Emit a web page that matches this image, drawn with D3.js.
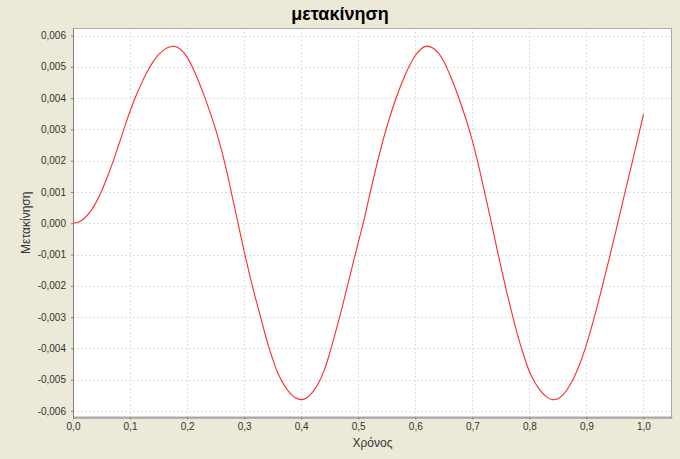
<!DOCTYPE html>
<html>
<head>
<meta charset="utf-8">
<script src="https://cdn.jsdelivr.net/npm/d3@7"></script>
<style>
  html, body { margin: 0; padding: 0; background: #ECE9D8; }
  svg { display: block; }
</style>
</head>
<body>
<svg id="chart" width="680" height="459"></svg>
<script>
const titleText = "μετακίνηση";
const xLabel = "Χρόνος";
const yLabel = "Μετακίνηση";

const time = [0.00, 0.01, 0.02, 0.03, 0.04, 0.05, 0.06, 0.07, 0.08, 0.09,
  0.10, 0.11, 0.12, 0.13, 0.14, 0.15, 0.16, 0.17, 0.18, 0.19,
  0.20, 0.21, 0.22, 0.23, 0.24, 0.25, 0.26, 0.27, 0.28, 0.29,
  0.30, 0.31, 0.32, 0.33, 0.34, 0.35, 0.36, 0.37, 0.38, 0.39,
  0.40, 0.41, 0.42, 0.43, 0.44, 0.45, 0.46, 0.47, 0.48, 0.49,
  0.50, 0.51, 0.52, 0.53, 0.54, 0.55, 0.56, 0.57, 0.58, 0.59,
  0.60, 0.61, 0.62, 0.63, 0.64, 0.65, 0.66, 0.67, 0.68, 0.69,
  0.70, 0.71, 0.72, 0.73, 0.74, 0.75, 0.76, 0.77, 0.78, 0.79,
  0.80, 0.81, 0.82, 0.83, 0.84, 0.85, 0.86, 0.87, 0.88, 0.89,
  0.90, 0.91, 0.92, 0.93, 0.94, 0.95, 0.96, 0.97, 0.98, 0.99, 1.00];

const displacement = [0, 0.00004, 0.00016, 0.00036, 0.00065, 0.00102, 0.00147, 0.00196, 0.00250, 0.00305,
  0.00358, 0.00405, 0.00447, 0.00484, 0.00515, 0.00539, 0.00555, 0.00564, 0.00565, 0.00553,
  0.00531, 0.00496, 0.00454, 0.00407, 0.00356, 0.00300, 0.00236, 0.00162, 0.00078, -0.00006,
  -0.00090, -0.00168, -0.00240, -0.00308, -0.00376, -0.00434, -0.00483, -0.00517, -0.00542, -0.00558,
  -0.00564, -0.00558, -0.00540, -0.00512, -0.00472, -0.00415, -0.00350, -0.00282, -0.00208, -0.00135,
  -0.00062, 0.00010, 0.00090, 0.00168, 0.00241, 0.00307, 0.00366, 0.00418, 0.00464, 0.00504,
  0.00536, 0.00557, 0.00566, 0.00561, 0.00545, 0.00517, 0.00477, 0.00432, 0.00381, 0.00326,
  0.00264, 0.00191, 0.00111, 0.00030, -0.00055, -0.00138, -0.00218, -0.00292, -0.00362, -0.00422,
  -0.00474, -0.00510, -0.00537, -0.00555, -0.00564, -0.00561, -0.00546, -0.00521, -0.00486, -0.00442,
  -0.00388, -0.00326, -0.00258, -0.00186, -0.00112, -0.00037, 0.00040, 0.00117, 0.00193, 0.00270, 0.00349];

const xTicks = [0, 0.1, 0.2, 0.3, 0.4, 0.5, 0.6, 0.7, 0.8, 0.9, 1.0];
const yTicks = [-0.006, -0.005, -0.004, -0.003, -0.002, -0.001, 0, 0.001, 0.002, 0.003, 0.004, 0.005, 0.006];

const svg = d3.select("#chart");
const L = 73, R = 672, T = 28, B = 417.5;

const x = d3.scaleLinear().domain([0, 1.05]).range([L, R]);
const y = d3.scaleLinear().domain([-0.00621, 0.00624]).range([B, T]);

const fontFam = "'Liberation Sans', Arial, sans-serif";

// title
svg.append("text")
  .attr("x", 340).attr("y", 20)
  .attr("text-anchor", "middle")
  .attr("font-family", fontFam)
  .attr("font-weight", "bold")
  .attr("font-size", 18)
  .attr("fill", "#000")
  .text(titleText);

// plot background
svg.append("rect")
  .attr("x", L).attr("y", T)
  .attr("width", R - L).attr("height", B - T)
  .attr("fill", "#fff");

const crisp = v => Math.round(v) + 0.5;

// gridlines
const grid = svg.append("g");
grid.selectAll("line.vx").data(xTicks.filter(d => d > 0)).enter().append("line")
  .attr("x1", d => crisp(x(d))).attr("x2", d => crisp(x(d)))
  .attr("y1", T).attr("y2", B)
  .attr("stroke", "#dedede").attr("stroke-width", 1).attr("stroke-dasharray", "2,2");
grid.selectAll("line.hy").data(yTicks).enter().append("line")
  .attr("x1", L).attr("x2", R)
  .attr("y1", d => crisp(y(d))).attr("y2", d => crisp(y(d)))
  .attr("stroke", "#dedede").attr("stroke-width", 1).attr("stroke-dasharray", "2,2");

// plot outline
svg.append("rect")
  .attr("x", L + 0.5).attr("y", T + 0.5)
  .attr("width", R - L - 1).attr("height", B - T - 1)
  .attr("fill", "none").attr("stroke", "#aaaaaa");

// line
const pts = time.map((t, i) => [t, displacement[i]]);
const line = d3.line().x(d => x(d[0])).y(d => y(d[1])).curve(d3.curveCatmullRom.alpha(0.5));
svg.append("path")
  .datum(pts)
  .attr("d", line)
  .attr("fill", "none")
  .attr("stroke", "#ff2a2a")
  .attr("stroke-width", 1.1);

// axes
const fmtX = d => d.toFixed(1).replace(".", ",");
const fmtY = d => (Math.abs(d) < 1e-12 ? "0,000" : d.toFixed(3).replace(".", ","));

const xAxis = svg.append("g")
  .attr("transform", `translate(0,${B})`)
  .call(d3.axisBottom(x).tickValues(xTicks).tickFormat(fmtX).tickSize(2).tickSizeOuter(0).tickPadding(3));
const yAxis = svg.append("g")
  .attr("transform", `translate(${L},0)`)
  .call(d3.axisLeft(y).tickValues(yTicks).tickFormat(fmtY).tickSize(2).tickSizeOuter(0).tickPadding(5));

[xAxis, yAxis].forEach(a => {
  a.select(".domain").attr("stroke", "#808080");
  a.selectAll(".tick line").attr("stroke", "#808080");
  a.selectAll(".tick text")
    .attr("font-family", fontFam)
    .attr("font-size", 10)
    .attr("fill", "#333");
});

// axis labels
svg.append("text")
  .attr("x", (L + R) / 2).attr("y", 447)
  .attr("text-anchor", "middle")
  .attr("font-family", fontFam)
  .attr("font-size", 12)
  .attr("fill", "#333")
  .text(xLabel);

svg.append("text")
  .attr("transform", `translate(30,${(T + B) / 2}) rotate(-90)`)
  .attr("text-anchor", "middle")
  .attr("font-family", fontFam)
  .attr("font-size", 12)
  .attr("fill", "#333")
  .text(yLabel);
</script>
</body>
</html>
